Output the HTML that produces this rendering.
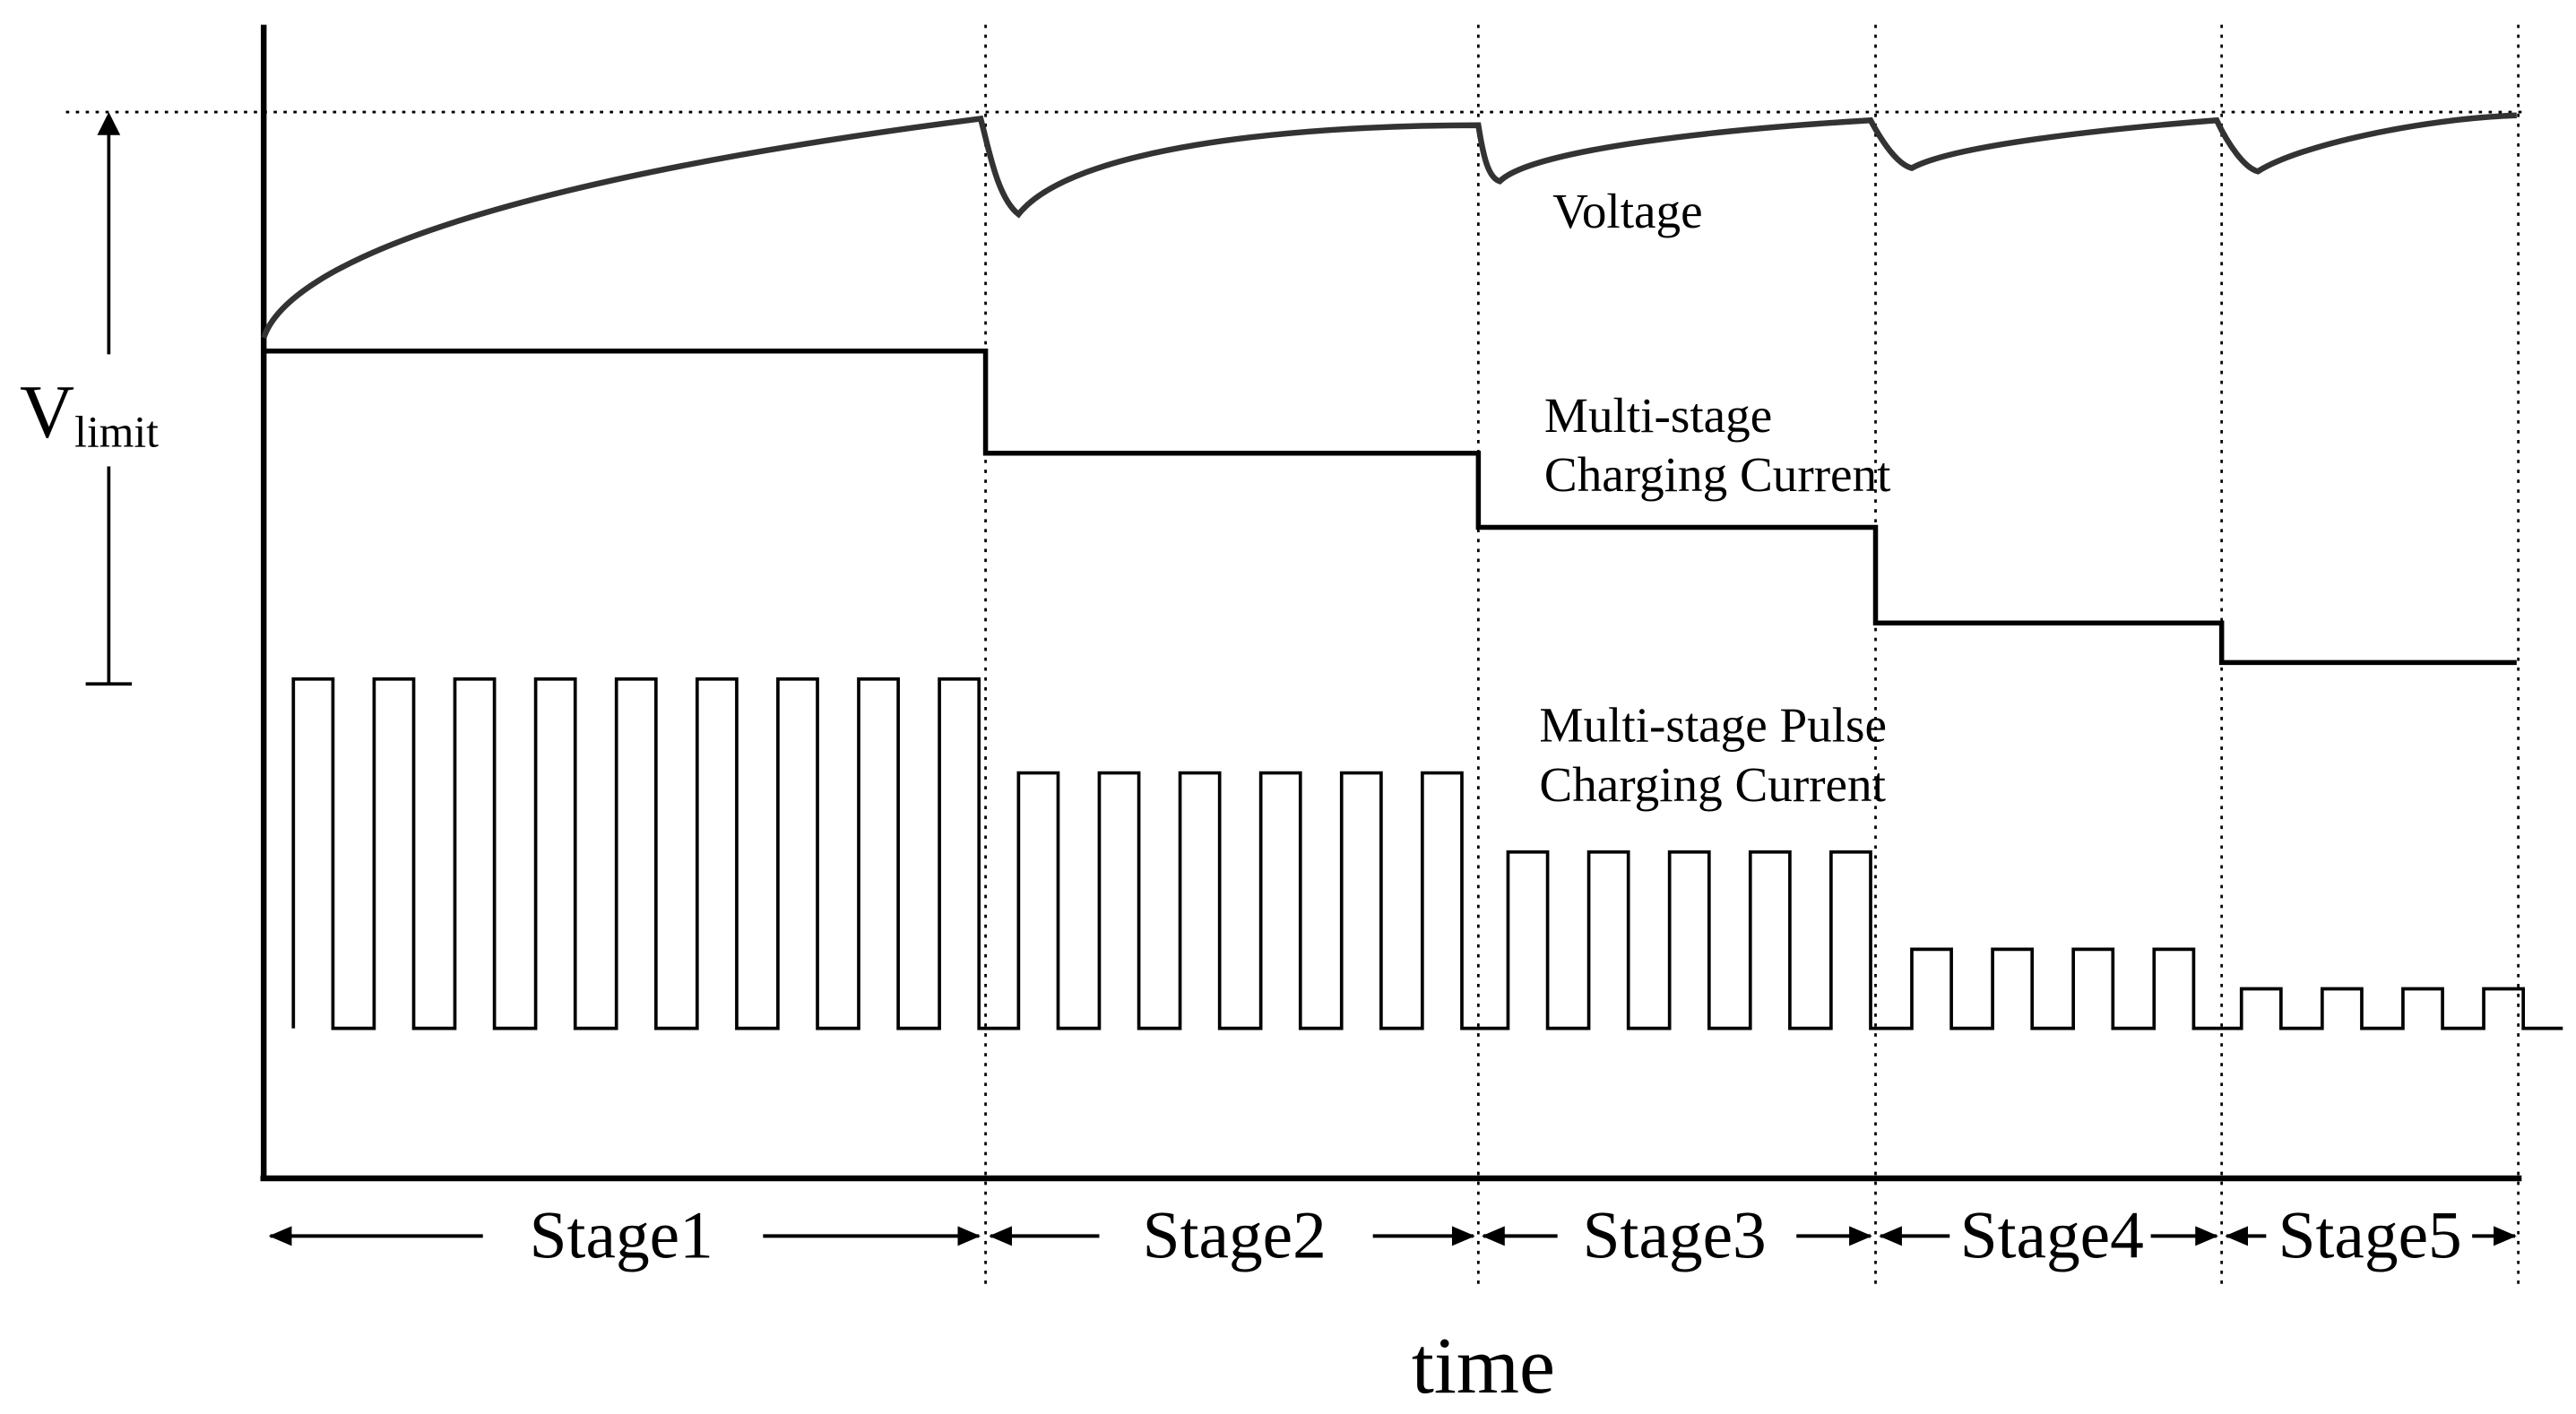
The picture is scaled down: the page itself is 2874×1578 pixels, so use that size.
<!DOCTYPE html>
<html><head><meta charset="utf-8"><style>
html,body{margin:0;padding:0;background:#fff;}
svg{display:block;}
text{font-family:"Liberation Serif",serif;fill:#000;}
</style></head><body>
<svg width="2874" height="1578" viewBox="0 0 1563 858" preserveAspectRatio="none" xmlns="http://www.w3.org/2000/svg">
<defs>
<marker id="ah" markerWidth="14" markerHeight="12" refX="13" refY="6" orient="auto" markerUnits="userSpaceOnUse">
<path d="M0,0 L14,6 L0,12 z" fill="#000"/></marker>
</defs>
<g stroke="#000" stroke-width="1.5" stroke-dasharray="2,4" fill="none">
<line x1="40" y1="68" x2="1530" y2="68"/>
<line x1="598" y1="15" x2="598" y2="780"/>
<line x1="897" y1="15" x2="897" y2="780"/>
<line x1="1138" y1="15" x2="1138" y2="780"/>
<line x1="1348" y1="15" x2="1348" y2="780"/>
<line x1="1528" y1="15" x2="1528" y2="780"/>
</g>
<line x1="160" y1="15" x2="160" y2="716" stroke="#000" stroke-width="3.5"/>
<line x1="158" y1="715" x2="1530" y2="715" stroke="#000" stroke-width="3.5"/>
<line x1="66" y1="215" x2="66" y2="72" stroke="#000" stroke-width="2"/>
<path d="M66,68 L59,82 L73,82 z" fill="#000"/>
<line x1="66" y1="283" x2="66" y2="415" stroke="#000" stroke-width="2"/>
<line x1="52" y1="415" x2="80" y2="415" stroke="#000" stroke-width="2"/>
<text x="12" y="265" font-size="46">V<tspan font-size="27" dy="6">limit</tspan></text>
<path d="M160,205 C175,160 300,110 595,72 C600,90 605,120 618,130 C650,90 780,76 897,76 C900,95 903,108 910,110 C930,90 1050,78 1135,73 C1143,88 1152,100 1160,102 C1185,88 1280,78 1345,73 C1352,88 1362,102 1370,104 C1395,88 1470,72 1527,70" fill="none" stroke="#333" stroke-width="3.5"/>
<polyline points="160,213 598,213 598,275 897,275 897,320 1138,320 1138,378 1348,378 1348,402 1527,402" fill="none" stroke="#000" stroke-width="3"/>
<polyline fill="none" stroke="#000" stroke-width="2" points="
178,624 178,412 202,412 202,624 227,624 227,412 251,412 251,624 276,624 276,412 300,412 300,624 325,624 325,412 349,412 349,624 374,624 374,412 398,412 398,624 423,624 423,412 447,412 447,624 472,624 472,412 496,412 496,624 521,624 521,412 545,412 545,624 570,624 570,412 594,412 594,624
618,624 618,469 642,469 642,624 667,624 667,469 691,469 691,624 716,624 716,469 740,469 740,624 765,624 765,469 789,469 789,624 814,624 814,469 838,469 838,624 863,624 863,469 887,469 887,624
915,624 915,517 939,517 939,624 964,624 964,517 988,517 988,624 1013,624 1013,517 1037,517 1037,624 1062,624 1062,517 1086,517 1086,624 1111,624 1111,517 1135,517 1135,624
1160,624 1160,576 1184,576 1184,624 1209,624 1209,576 1233,576 1233,624 1258,624 1258,576 1282,576 1282,624 1307,624 1307,576 1331,576 1331,624
1360,624 1360,600 1384,600 1384,624 1409,624 1409,600 1433,600 1433,624 1458,624 1458,600 1482,600 1482,624 1507,624 1507,600 1531,600 1531,624 1555,624"/>
<text x="942" y="138" font-size="30">Voltage</text>
<text x="937" y="262" font-size="30">Multi-stage</text>
<text x="937" y="298" font-size="30">Charging Current</text>
<text x="934" y="450" font-size="30">Multi-stage Pulse</text>
<text x="934" y="486" font-size="30">Charging Current</text>
<text x="900" y="845" font-size="49" text-anchor="middle">time</text>
<g stroke="#000" stroke-width="2.2" fill="none">
<line x1="293" y1="750" x2="164" y2="750" marker-end="url(#ah)"/>
<line x1="463" y1="750" x2="594" y2="750" marker-end="url(#ah)"/>
<line x1="667" y1="750" x2="601" y2="750" marker-end="url(#ah)"/>
<line x1="833" y1="750" x2="894" y2="750" marker-end="url(#ah)"/>
<line x1="945" y1="750" x2="900" y2="750" marker-end="url(#ah)"/>
<line x1="1090" y1="750" x2="1135" y2="750" marker-end="url(#ah)"/>
<line x1="1183" y1="750" x2="1141" y2="750" marker-end="url(#ah)"/>
<line x1="1305" y1="750" x2="1345" y2="750" marker-end="url(#ah)"/>
<line x1="1375" y1="750" x2="1351" y2="750" marker-end="url(#ah)"/>
<line x1="1500" y1="750" x2="1526" y2="750" marker-end="url(#ah)"/>
</g>
<g font-size="41" text-anchor="middle">
<text x="377" y="763">Stage1</text>
<text x="749" y="763">Stage2</text>
<text x="1016" y="763">Stage3</text>
<text x="1245" y="763">Stage4</text>
<text x="1438" y="763">Stage5</text>
</g>
</svg>
</body></html>
